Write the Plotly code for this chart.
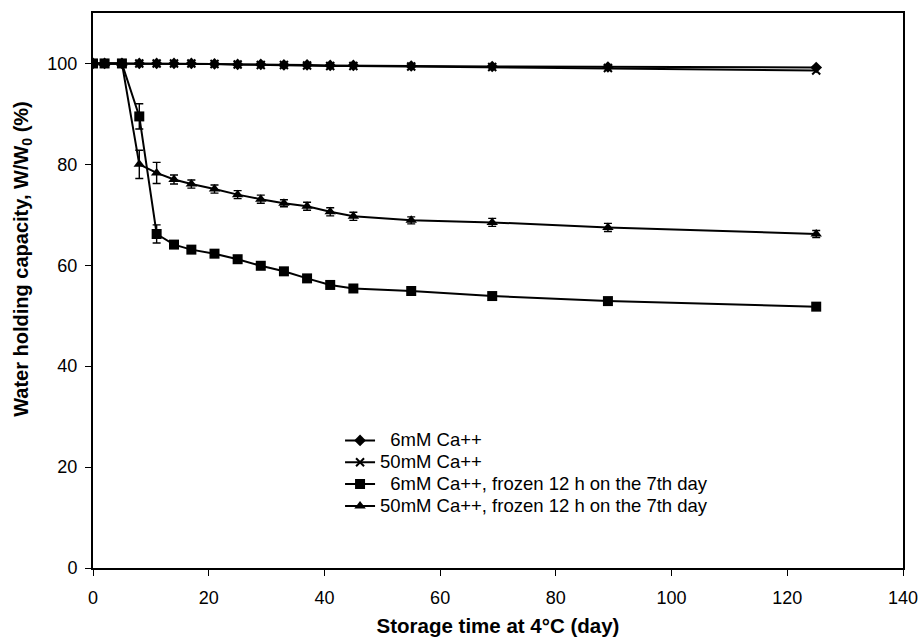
import plotly.graph_objects as go

days = [0, 2, 5, 8, 11, 14, 17, 21, 25, 29, 33, 37, 41, 45, 55, 69, 89, 125]

ca6 = [100, 100, 100, 100, 100, 100, 100, 99.9, 99.8, 99.8, 99.7, 99.7, 99.6, 99.6, 99.5, 99.4, 99.3, 99.2]
ca50 = [100, 100, 100, 100, 100, 100, 100, 99.9, 99.8, 99.7, 99.7, 99.6, 99.5, 99.5, 99.4, 99.3, 99.1, 98.6]
ca6_frozen = [100, 100, 100, 89.5, 66.2, 64.1, 63.1, 62.3, 61.2, 59.9, 58.8, 57.4, 56.1, 55.4, 54.9, 53.9, 52.9, 51.8]
ca6_frozen_err = [0, 0, 0, 2.5, 1.8, 0.6, 0.5, 0.5, 0.5, 0.5, 0.5, 0.5, 0.5, 0.5, 0.5, 0.5, 0.5, 0.6]
ca50_frozen = [100, 100, 100, 80.0, 78.3, 77.0, 76.1, 75.1, 74.0, 73.1, 72.3, 71.7, 70.6, 69.7, 68.9, 68.5, 67.5, 66.2]
ca50_frozen_err = [0, 0, 0, 2.8, 2.1, 0.9, 0.8, 0.8, 0.8, 0.8, 0.7, 0.8, 0.8, 0.8, 0.7, 0.8, 0.8, 0.7]

labels = [
    "\u00a0\u00a06mM Ca++",
    "50mM Ca++",
    "\u00a0\u00a06mM Ca++, frozen 12 h on the 7th day",
    "50mM Ca++, frozen 12 h on the 7th day",
]
names = ['<span style="font-size:18.5px">%s</span>' % s for s in labels]

x_title = "<b>Storage time at 4°C (day)</b>"
y_title = "<b>Water holding capacity, W/W<sub>0</sub> (%)</b>"

fig = go.Figure()
line = dict(color="black", width=2)
err = dict(color="black", thickness=1.4, width=4)

fig.add_trace(go.Scatter(x=days, y=ca6, mode="lines+markers", name=names[0],
                         line=line, marker=dict(symbol="diamond", size=9, color="black")))
fig.add_trace(go.Scatter(x=days, y=ca50, mode="lines+markers", name=names[1],
                         line=line, marker=dict(symbol="x-thin", size=8, color="black",
                                                line=dict(color="black", width=2))))
fig.add_trace(go.Scatter(x=days, y=ca6_frozen, mode="lines+markers", name=names[2],
                         line=line, marker=dict(symbol="square", size=10, color="black"),
                         error_y=dict(type="data", array=ca6_frozen_err, **err)))
fig.add_trace(go.Scatter(x=days, y=ca50_frozen, mode="lines+markers", name=names[3],
                         line=line, marker=dict(symbol="triangle-up", size=10, color="black"),
                         error_y=dict(type="data", array=ca50_frozen_err, **err)))

axis_common = dict(showline=True, linecolor="black", linewidth=2, mirror=True,
                   ticks="outside", ticklen=6, tickwidth=1.3, tickcolor="black",
                   showgrid=False, zeroline=False, automargin=False,
                   tickfont=dict(family="Liberation Sans, Arial", size=18, color="black"))

fig.update_xaxes(range=[0, 140], tickvals=[0, 20, 40, 60, 80, 100, 120, 140],
                 ticklabelstandoff=6,
                 title=dict(text=x_title, standoff=12,
                            font=dict(family="Liberation Sans, Arial", size=20.5, color="black")),
                 **axis_common)
fig.update_yaxes(range=[0, 110], tickvals=[0, 20, 40, 60, 80, 100],
                 ticklabelstandoff=4,
                 **axis_common)

fig.add_annotation(text=y_title, xref="paper", yref="paper", x=-0.0865, y=0.557,
                   xanchor="center", yanchor="middle", textangle=-90, showarrow=False,
                   font=dict(family="Liberation Sans, Arial", size=20, color="black"))

fig.update_layout(
    width=923, height=641,
    margin=dict(l=93, r=20, t=13, b=73),
    plot_bgcolor="white", paper_bgcolor="white",
    showlegend=True,
    legend=dict(x=0.305, y=0.2586, xanchor="left", yanchor="top",
                bgcolor="rgba(0,0,0,0)", itemwidth=30, tracegroupgap=0,
                font=dict(family="Liberation Sans, Arial", size=14.5, color="black")),
)

fig.write_html("out.html")
